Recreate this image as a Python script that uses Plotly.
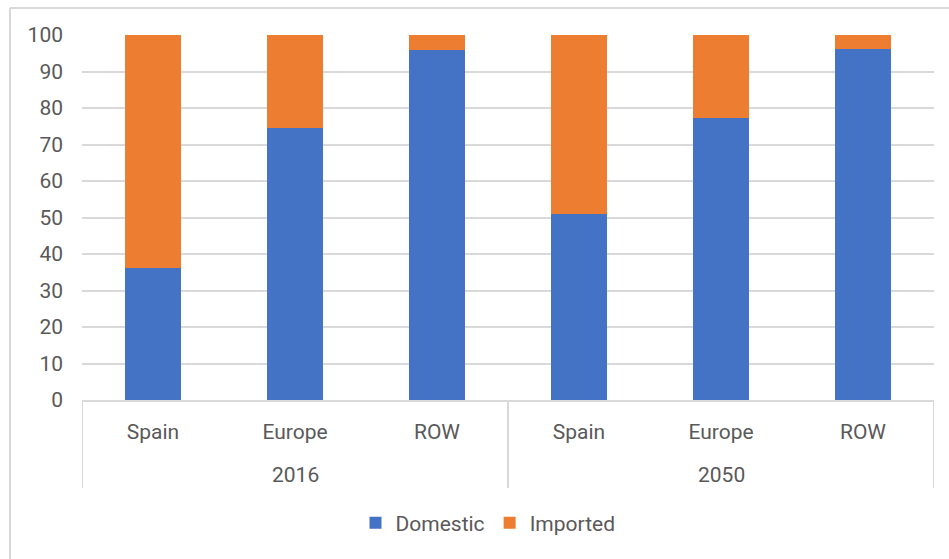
import plotly.graph_objects as go

regions = ["Spain", "Europe", "ROW", "Spain", "Europe", "ROW"]
years = ["2016", "2050"]
domestic = [36.2, 74.6, 95.8, 51.0, 77.3, 96.1]
imported = [100 - d for d in domestic]
y_ticks = [0, 10, 20, 30, 40, 50, 60, 70, 80, 90, 100]

W, H = 949, 559
L, R, T, B = 82, 15, 35, 159
pw, ph = W - L - R, H - T - B

def px(xp):
    return (xp - L) / pw

def py(yp):
    return (H - B - yp) / ph

FONT = "Roboto, 'Open Sans', sans-serif"
GREY = "#595959"
LINE = "#d9d9d9"
FS = 21

xpos = list(range(len(regions)))

fig = go.Figure()
fig.add_bar(x=xpos, y=domestic, name="Domestic", marker_color="#4472C4", marker_line_width=0)
fig.add_bar(x=xpos, y=imported, name="Imported", marker_color="#ED7D31", marker_line_width=0)

shapes = []
# group dividers below axis
for xd in [-0.5, 2.5, 5.5]:
    shapes.append(dict(type="line", xref="x", yref="paper", x0=xd, x1=xd,
                       y0=0, y1=py(488), line=dict(color=LINE, width=2)))
# chart outer border (top and left)
shapes.append(dict(type="line", xref="paper", yref="paper", x0=px(10), x1=px(949),
                   y0=py(8), y1=py(8), line=dict(color=LINE, width=2)))
shapes.append(dict(type="line", xref="paper", yref="paper", x0=px(10), x1=px(10),
                   y0=py(8), y1=py(559), line=dict(color=LINE, width=2)))

annotations = []
n_per = len(regions) // len(years)
for i, yr in enumerate(years):
    annotations.append(dict(x=i * n_per + (n_per - 1) / 2, y=py(475), xref="x", yref="paper",
                            text=yr, showarrow=False, yanchor="middle",
                            font=dict(family=FONT, size=FS, color=GREY)))

fig.update_layout(
    width=W, height=H,
    margin=dict(l=L, r=R, t=T, b=B),
    paper_bgcolor="white", plot_bgcolor="white",
    barmode="stack", bargap=0.605,
    showlegend=True,
    legend=dict(orientation="h", x=px(488), xanchor="center", y=py(523), yanchor="middle",
                font=dict(family=FONT, size=FS, color=GREY), itemwidth=30,
                traceorder="normal"),
    font=dict(family=FONT, size=FS, color=GREY),
    shapes=shapes,
    annotations=annotations,
    xaxis=dict(range=[-0.5, 5.5], tickmode="array", tickvals=xpos, ticktext=regions,
               showgrid=False, zeroline=False, showline=True, linecolor=LINE, linewidth=2,
               ticks="", ticklabelstandoff=12, fixedrange=True,
               tickfont=dict(family=FONT, size=FS, color=GREY)),
    yaxis=dict(range=[0, 100], tickmode="array", tickvals=y_ticks,
               showgrid=True, gridcolor=LINE, gridwidth=2, zeroline=False,
               showline=False, ticks="", ticklabelstandoff=18,
               tickfont=dict(family=FONT, size=FS, color=GREY)),
)

fig.write_html("out.html")
